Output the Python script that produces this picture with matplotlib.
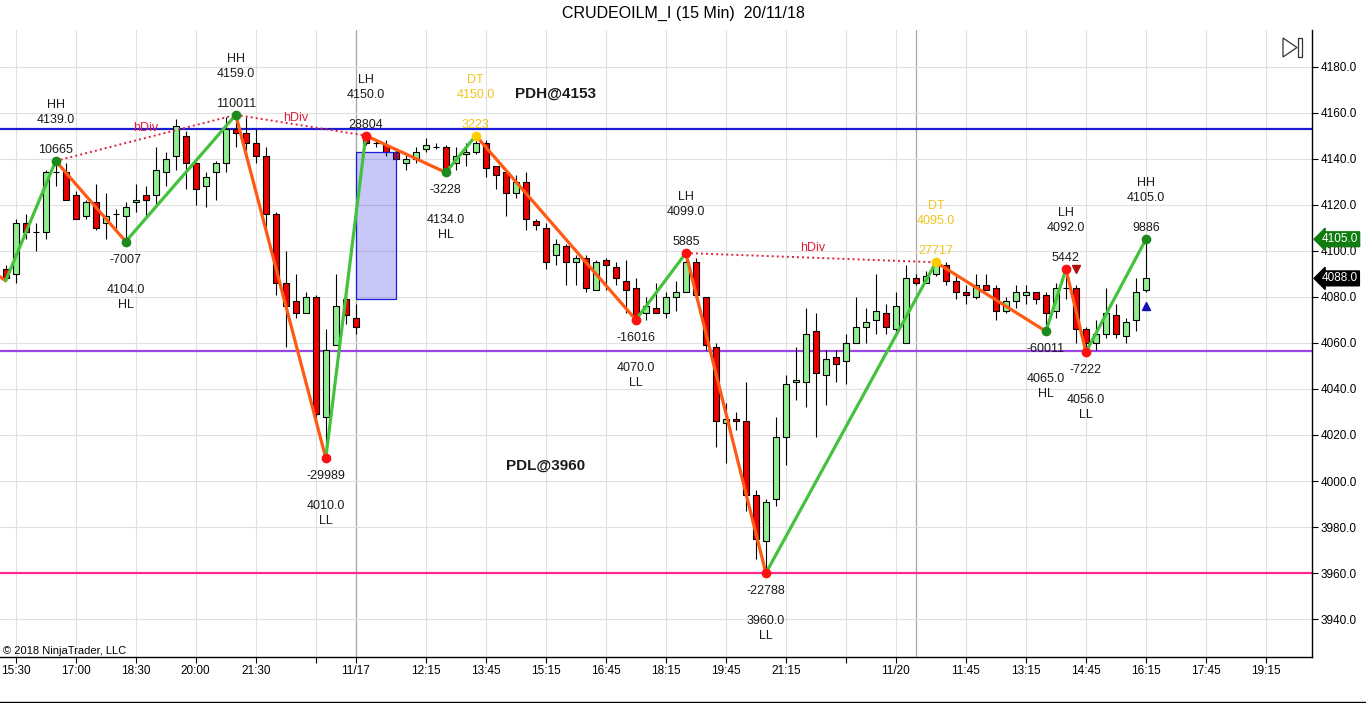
import matplotlib.pyplot as plt
import matplotlib.transforms as mtransforms
from matplotlib.patches import Rectangle, Polygon
from matplotlib.lines import Line2D

plt.rcParams['font.family'] = ['Liberation Sans', 'DejaVu Sans']

# 15 min bars, index 0 = 15:30 of the first session
bars = list(range(-1, 114))
opens = [4092, 4090, 4112, 4108, 4108, 4134, 4134, 4124, 4115, 4121, 4112, 4116, 4115, 4121, 4124,
         4124, 4134, 4141, 4150, 4138, 4128, 4134, 4138, 4153, 4151, 4147, 4141, 4116, 4086, 4078,
         4073, 4080, 4028, 4059, 4079, 4071, 4149, 4147, 4146, 4143, 4138, 4140, 4144, 4145, 4145,
         4138, 4142, 4143, 4147, 4137, 4134, 4125, 4130, 4113, 4110, 4098, 4102, 4095, 4097, 4083,
         4096, 4093, 4087, 4084, 4073, 4075, 4073, 4080, 4082, 4095, 4080, 4058, 4025, 4027, 4026,
         3994, 3974, 3992, 4019, 4043, 4043, 4065, 4046, 4054, 4052, 4060, 4067, 4070, 4073, 4066,
         4060, 4088, 4086, 4090, 4094, 4087, 4082, 4080, 4085, 4084, 4074, 4078, 4081, 4082, 4081,
         4074, 4084, 4084, 4066, 4060, 4064, 4072, 4063, 4070, 4083]
highs = [4094, 4114, 4116, 4112, 4135, 4139, 4138, 4126, 4122, 4129, 4125, 4118, 4121, 4129, 4128,
         4145, 4143, 4157, 4152, 4138, 4134, 4139, 4158, 4159, 4158, 4153, 4145, 4117, 4100, 4090,
         4082, 4081, 4066, 4090, 4086, 4077, 4150, 4148, 4148, 4144, 4142, 4145, 4149, 4147, 4146,
         4145, 4147, 4150, 4148, 4137, 4134, 4133, 4134, 4114, 4112, 4105, 4103, 4098, 4098, 4096,
         4097, 4095, 4096, 4088, 4080, 4086, 4082, 4087, 4099, 4097, 4080, 4060, 4034, 4030, 4043,
         3996, 3992, 4028, 4046, 4058, 4075, 4073, 4057, 4057, 4064, 4080, 4075, 4090, 4077, 4082,
         4094, 4090, 4091, 4095, 4095, 4090, 4085, 4090, 4090, 4085, 4080, 4085, 4085, 4082, 4082,
         4086, 4092, 4085, 4067, 4070, 4084, 4077, 4071, 4088, 4105]
lows = [4087, 4086, 4105, 4100, 4105, 4128, 4122, 4114, 4114, 4109, 4105, 4110, 4104, 4117, 4115,
        4119, 4128, 4135, 4127, 4120, 4119, 4122, 4134, 4145, 4140, 4138, 4110, 4081, 4058, 4071,
        4073, 4026, 4010, 4059, 4068, 4064, 4146, 4145, 4141, 4139, 4135, 4138, 4143, 4144, 4134,
        4135, 4137, 4142, 4132, 4127, 4115, 4123, 4109, 4109, 4092, 4094, 4085, 4085, 4082, 4083,
        4083, 4085, 4073, 4070, 4070, 4073, 4071, 4074, 4082, 4079, 4057, 4015, 4008, 4022, 3987,
        3966, 3960, 3989, 4007, 4035, 4032, 4019, 4033, 4043, 4042, 4060, 4060, 4064, 4064, 4063,
        4060, 4085, 4086, 4089, 4085, 4079, 4077, 4079, 4083, 4070, 4073, 4075, 4077, 4077, 4065,
        4071, 4079, 4060, 4056, 4057, 4062, 4062, 4060, 4065, 4082]
closes = [4088, 4112, 4108, 4108, 4134, 4134, 4122, 4114, 4121, 4110, 4115, 4116, 4119, 4122, 4122,
          4135, 4140, 4154, 4138, 4127, 4132, 4138, 4153, 4151, 4147, 4141, 4116, 4086, 4076, 4073,
          4080, 4029, 4057, 4076, 4072, 4067, 4147, 4147, 4143, 4140, 4140, 4143, 4146, 4145, 4136,
          4141, 4143, 4147, 4136, 4133, 4125, 4130, 4114, 4111, 4095, 4103, 4095, 4097, 4084, 4095,
          4094, 4088, 4083, 4071, 4076, 4073, 4080, 4082, 4095, 4081, 4059, 4026, 4027, 4026, 3994,
          3975, 3991, 4019, 4042, 4044, 4064, 4047, 4053, 4051, 4060, 4067, 4069, 4074, 4067, 4076,
          4088, 4086, 4089, 4094, 4087, 4082, 4081, 4085, 4083, 4074, 4078, 4082, 4082, 4079, 4073,
          4084, 4084, 4066, 4060, 4064, 4073, 4064, 4069, 4082, 4088]

# swing points
zz_bars = [-2, -1, 4, 11, 22, 31, 35, 43, 46, 62, 67, 75, 92, 103, 105, 107, 113]
zz_prices = [4090, 4087, 4139, 4104, 4159, 4010, 4150, 4134, 4150, 4070, 4099, 3960, 4095, 4065, 4092, 4056, 4105]
swing_kind = ['HH', 'HL', 'HH', 'LL', 'LH', 'HL', 'DT', 'LL', 'LH', 'LL', 'DT', 'HL', 'LH', 'LL', 'HH']
swing_counts = ['10665', '-7007', '110011', '-29989', '28804', '-3228', '3223', '-16016', '5885',
                '-22788', '27717', '-60011', '5442', '-7222', '9886']

div_pairs = [(4, 4139, 22, 4159), (22, 4159, 35, 4150), (67, 4099, 92, 4095)]
div_label_pos = [(13, 4153.5), (28, 4157.5), (79.7, 4101)]

tick_bars = [0, 6, 12, 18, 24, 30, 34, 41, 47, 53, 59, 65, 71, 77, 83, 88, 95, 101, 107, 113, 119, 125]
tick_labels = ['15:30', '17:00', '18:30', '20:00', '21:30', '', '11/17', '12:15', '13:45', '15:15', '16:45',
               '18:15', '19:45', '21:15', '', '11/20', '11:45', '13:15', '14:45', '16:15', '17:45', '19:15']
session_bars = [34, 90]
price_ticks = list(range(3940, 4181, 20))

pdh, pdl, mid_level = 4153, 3960, 4056.5
last_price, swing_high = 4088, 4105

fig = plt.figure(figsize=(13.66, 7.03), dpi=100)
ax = fig.add_axes([0, 46 / 703, 1312 / 1366, 627 / 703])
ax.set_xlim(-1.57, 129.6)
ax.set_ylim(3923.6, 4195.85)

for t in tick_bars:
    ax.axvline(t, color='#e0e0e0', lw=0.8, zorder=0)
for s in session_bars:
    ax.axvline(s, color='#a8a8a8', lw=0.9, zorder=0)
for p in price_ticks:
    ax.axhline(p, color='#e0e0e0', lw=0.8, zorder=0)

ax.axhline(pdh, color='#1c1cd6', lw=1.6, zorder=1)
ax.axhline(mid_level, color='#9b45e6', lw=1.6, zorder=1)
ax.axhline(pdl, color='#ff2a8c', lw=1.6, zorder=1)

# candles
ax.vlines(bars, lows, highs, color='black', lw=0.8, zorder=2)
for b, o, c in zip(bars, opens, closes):
    col = '#90ee90' if c >= o else '#ee0000'
    ax.bar(b, abs(c - o), bottom=min(o, c), width=0.64, color=col, edgecolor='black', lw=0.8, zorder=3)

ax.add_patch(Rectangle((34, 4079), 4, 64, facecolor=(0.15, 0.15, 0.9, 0.25),
                       edgecolor='#1c1cd6', lw=0.9, zorder=4))

# zigzag
for i in range(len(zz_bars) - 1):
    col = '#44c23c' if zz_prices[i + 1] > zz_prices[i] else '#ff5a14'
    ax.plot(zz_bars[i:i + 2], zz_prices[i:i + 2], color=col, lw=2.3, solid_capstyle='round', zorder=5)

for (b1, p1, b2, p2), (tx, ty) in zip(div_pairs, div_label_pos):
    ax.plot([b1, b2], [p1, p2], color='#e0203c', lw=1.4, ls=(0, (1, 1.6)), zorder=5)
    ax.text(tx, ty, 'hDiv', color='#e0203c', fontsize=9, ha='center', va='center', zorder=6)

for b, p, kind, cnt in zip(zz_bars[2:], zz_prices[2:], swing_kind, swing_counts):
    if kind == 'DT':
        dot, txt = '#ffcc00', '#f0c419'
    elif kind in ('HH', 'HL'):
        dot, txt = '#1e8a1e', '#1a1a1a'
    else:
        dot, txt = '#ff1010', '#1a1a1a'
    ax.plot(b, p, 'o', color=dot, ms=6, zorder=7)
    if kind in ('HH', 'LH', 'DT'):
        offs = [(cnt, 11), (f'{p:.1f}', 41), (kind, 56)]
    else:
        offs = [(cnt, -18), (f'{p:.1f}', -48), (kind, -63)]
    for s, dy in offs:
        ax.annotate(s, (b, p), xytext=(0, dy * 0.72), textcoords='offset points',
                    ha='center', va='center', fontsize=9, color=txt, zorder=8)

ax.plot(106, 4092, 'v', color='#b01010', ms=6, zorder=7)
ax.plot(113, 4076, '^', color='#1010b0', ms=6, zorder=7)

ax.text(54, 4168, 'PDH@4153', fontsize=11, fontweight='bold', ha='center', va='center', color='#1a1a1a')
ax.text(53, 4006.5, 'PDL@3960', fontsize=11, fontweight='bold', ha='center', va='center', color='#1a1a1a')

ax.set_xticks(tick_bars)
ax.set_xticklabels(tick_labels, fontsize=8.5)
ax.yaxis.tick_right()
ax.set_yticks(price_ticks)
ax.set_yticklabels([f'{p:.1f}' for p in price_ticks], fontsize=8.5)
ax.tick_params(axis='both', direction='out', length=4, width=0.8, pad=2, colors='black')
for side in ['top', 'left']:
    ax.spines[side].set_visible(False)
for side in ['right', 'bottom']:
    ax.spines[side].set_linewidth(1.0)

# last price markers on the price scale
trans = mtransforms.blended_transform_factory(ax.transAxes, ax.transData)
ax.text(1.0075, swing_high, f'{swing_high:.1f}', transform=trans, fontsize=8.5, color='white',
        ha='left', va='center', zorder=10, clip_on=False,
        bbox=dict(boxstyle='larrow,pad=0.12', fc='#117d11', ec='#117d11'))
ax.text(1.0075, last_price, f'{last_price:.1f}', transform=trans, fontsize=8.5, color='white',
        ha='left', va='center', zorder=10, clip_on=False,
        bbox=dict(boxstyle='larrow,pad=0.12', fc='black', ec='black'))


def fpx(x, y):
    return (x / 1366, 1 - y / 703)


fig.add_artist(Polygon([fpx(1283, 38), fpx(1283, 57), fpx(1297, 47.5)], closed=True, fill=False,
                       ec='#333333', lw=0.9, transform=fig.transFigure))
fig.add_artist(Polygon([fpx(1298, 38), fpx(1302, 38), fpx(1302, 57), fpx(1298, 57)], closed=True,
                       fill=False, ec='#333333', lw=0.9, transform=fig.transFigure))
fig.add_artist(Line2D([0, 1], [0.7 / 703, 0.7 / 703], color='black', lw=1, transform=fig.transFigure))

fig.text(0.5, 1 - 13 / 703, 'CRUDEOILM_I (15 Min)  20/11/18', ha='center', va='center', fontsize=11.5)
fig.text(3 / 1366, 1 - 651 / 703, '© 2018 NinjaTrader, LLC', ha='left', va='center', fontsize=8)

fig.savefig('out.png', dpi=100)
